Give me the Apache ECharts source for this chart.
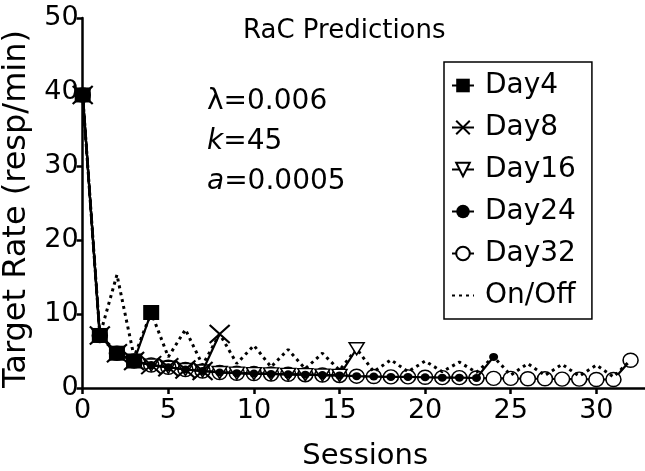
<!DOCTYPE html>
<html><head><meta charset="utf-8">
<script src="https://cdn.jsdelivr.net/npm/echarts@6/dist/echarts.min.js"></script>
<style>html,body{margin:0;padding:0;background:#fff}#c{width:645px;height:471px}</style>
</head><body><div id="c"></div>
<script>
const sessions = [0,1,2,3,4,5,6,7,8,9,10,11,12,13,14,15,16,17,18,19,20,21,22,23,24,25,26,27,28,29,30,31,32];
const day4  = [39.6, 7.1, 4.7, 3.65, 10.2];
const day8  = [39.6, 7.1, 4.7, 3.65, 3.1, 2.8, 2.5, 2.3, 7.3];
const day16 = [39.6, 7.1, 4.7, 3.65, 3.1, 2.8, 2.5, 2.3, 2.1, 2.0, 1.95, 1.9, 1.85, 1.8, 1.75, 1.7, 5.3];
const day24 = [39.6, 7.1, 4.7, 3.65, 3.1, 2.8, 2.5, 2.3, 2.1, 2.0, 1.95, 1.9, 1.85, 1.8, 1.75, 1.7, 1.6, 1.55, 1.5, 1.5, 1.45, 1.4, 1.4, 1.35, 4.2];
const day32 = [39.6, 7.1, 4.7, 3.65, 3.1, 2.8, 2.5, 2.3, 2.1, 2.0, 1.95, 1.9, 1.85, 1.8, 1.75, 1.7, 1.6, 1.55, 1.5, 1.5, 1.45, 1.4, 1.4, 1.35, 1.3, 1.3, 1.25, 1.25, 1.2, 1.2, 1.15, 1.15, 3.75];
const onOff = [39.6, 7.1, 15.3, 4.2, 10.2, 4.2, 7.9, 3.1, 7.3, 3.3, 5.75, 2.85, 5.2, 2.6, 4.7, 2.4, 5.3, 2.2, 3.8, 2.2, 3.65, 2.2, 3.5, 2.1, 4.2, 1.75, 3.3, 1.7, 3.2, 1.6, 3.1, 1.5, 3.75];
const xTickLabels = ['0','5','10','15','20','25','30'];
const yTickLabels = ['0','10','20','30','40','50'];
const seriesNames = ['Day4','Day8','Day16','Day24','Day32','On/Off'];
const titleText = 'RaC Predictions';
const paramLines = ['λ=0.006', '{i|k}=45', '{i|a}=0.0005'];

const FONT = '"DejaVu Sans", Verdana, sans-serif';
const pts = vals => vals.map((v, i) => [sessions[i], v]);
const chart = echarts.init(document.getElementById('c'), null, {renderer: 'canvas'});
const base = {type: 'line', showAllSymbol: true, lineStyle: {color: '#000', width: 2.2}, emphasis: {disabled: true}};
const option = {
  animation: false,
  backgroundColor: '#fff',
  title: {text: titleText, left: 238, top: 13,
    textStyle: {fontFamily: FONT, fontSize: 26, fontWeight: 'normal', color: '#000'}},
  grid: {left: 82.7, top: 18, width: 565, height: 370, outerBoundsMode: 'none', containLabel: false},
  legend: {
    orient: 'vertical', left: 444, top: 62,
    padding: [8, 16, 8, 7],
    borderColor: '#000', borderWidth: 1.5, borderRadius: 0,
    itemWidth: 22, itemHeight: 17, itemGap: 11,
    textStyle: {fontFamily: FONT, fontSize: 28, color: '#000', lineHeight: 31, padding: [0, 0, 0, 6]},
    data: seriesNames.map(n => n === 'On/Off' ? {name: n, itemStyle: {opacity: 0}} : {name: n})
  },
  xAxis: {
    type: 'value', min: 0, max: 33, interval: 5,
    axisLine: {lineStyle: {color: '#000', width: 2.5}},
    axisTick: {length: 6, lineStyle: {color: '#000', width: 2.5}},
    axisLabel: {fontFamily: FONT, fontSize: 27, color: '#000', margin: 9, showMaxLabel: false,
      formatter: v => xTickLabels.includes(String(v)) ? String(v) : ''},
    splitLine: {show: false},
    name: 'Sessions', nameLocation: 'middle', nameGap: 54,
    nameTextStyle: {fontFamily: FONT, fontSize: 29, color: '#000'}
  },
  yAxis: {
    type: 'value', min: 0, max: 50, interval: 10,
    axisLine: {show: true, lineStyle: {color: '#000', width: 2.5}},
    axisTick: {show: true, length: 6, lineStyle: {color: '#000', width: 2.5}},
    axisLabel: {fontFamily: FONT, fontSize: 27, color: '#000', margin: 4,
      formatter: v => yTickLabels.includes(String(v)) ? String(v) : ''},
    splitLine: {show: false},
    name: 'Target Rate (resp/min)', nameLocation: 'middle', nameGap: 50,
    nameTextStyle: {fontFamily: FONT, fontSize: 32, color: '#000', padding: [0, 12, 0, 0]}
  },
  graphic: paramLines.map((t, i) => ({
    type: 'text', left: 207, top: 88 + i * 40, silent: true,
    style: {text: t, fontFamily: FONT, fontSize: 28, fill: '#000',
      rich: {i: {fontFamily: FONT, fontSize: 28, fontStyle: 'italic', fill: '#000'}}}
  })),
  series: [
    Object.assign({}, base, {name: 'Day32', z: 2, data: pts(day32), symbol: 'circle', symbolSize: [15, 14],
      itemStyle: {color: '#fff', borderColor: '#000', borderWidth: 1.5}}),
    Object.assign({}, base, {name: 'On/Off', z: 3, data: pts(onOff), symbol: 'none',
      lineStyle: {color: '#000', width: 3, type: [3, 4]}, itemStyle: {color: '#000'}}),
    Object.assign({}, base, {name: 'Day16', z: 4, data: pts(day16), symbol: 'triangle', symbolRotate: 180, symbolSize: [15, 12],
      itemStyle: {color: '#fff', borderColor: '#000', borderWidth: 1.5}}),
    Object.assign({}, base, {name: 'Day24', z: 5, data: pts(day24), symbol: 'circle', symbolSize: [9, 8],
      itemStyle: {color: '#000', borderColor: '#000', borderWidth: 0}}),
    Object.assign({}, base, {name: 'Day8', z: 6, data: pts(day8), symbol: 'path://M0,0L10,10M10,0L0,10', symbolSize: [20, 18],
      itemStyle: {color: 'none', borderColor: '#000', borderWidth: 2}}),
    Object.assign({}, base, {name: 'Day4', z: 7, data: pts(day4), symbol: 'rect', symbolSize: [16, 15],
      itemStyle: {color: '#000', borderColor: '#000', borderWidth: 0}})
  ]
};
chart.setOption(option);
</script></body></html>
